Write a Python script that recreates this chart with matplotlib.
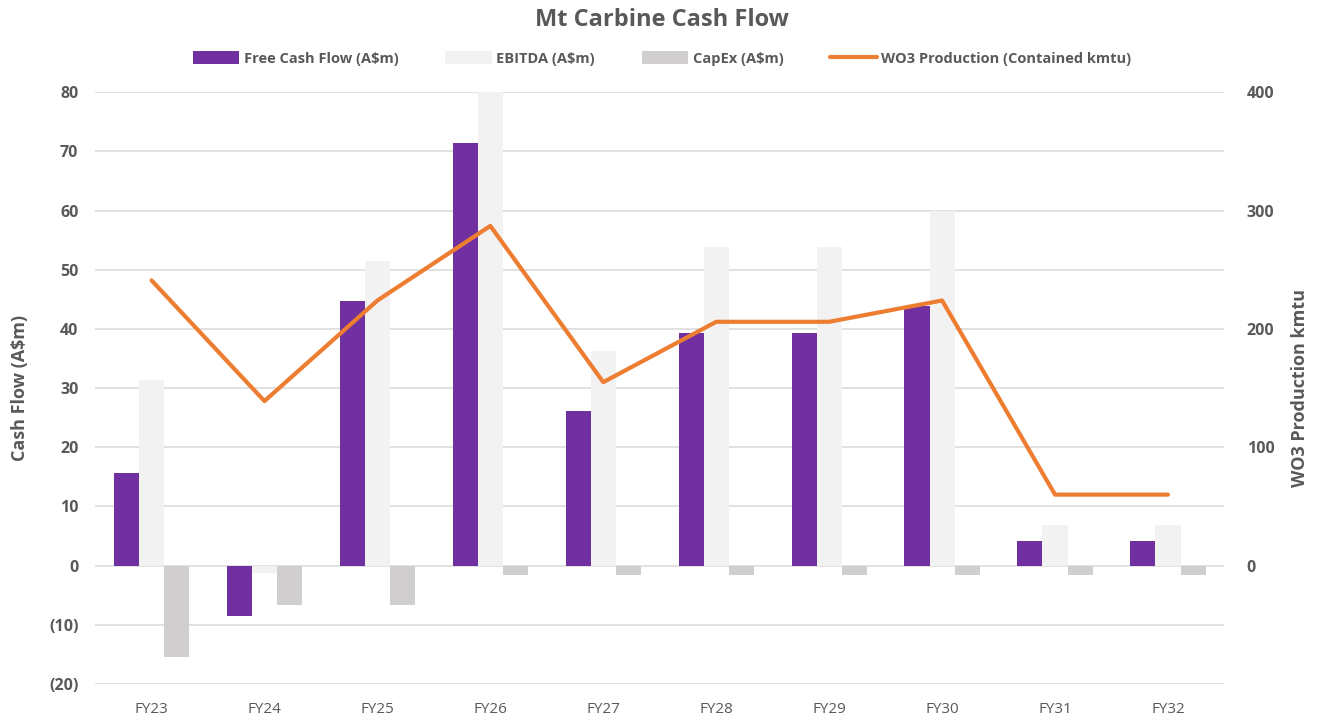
import numpy as np
import matplotlib.pyplot as plt

plt.rcParams['font.family'] = ['Open Sans', 'DejaVu Sans']

years = ['FY23', 'FY24', 'FY25', 'FY26', 'FY27', 'FY28', 'FY29', 'FY30', 'FY31', 'FY32']
fcf = [15.7, -8.5, 44.7, 71.4, 26.2, 39.3, 39.3, 43.9, 4.1, 4.1]
ebitda = [31.3, -1.3, 51.4, 85.0, 36.2, 53.8, 53.8, 60.0, 6.8, 6.8]
capex = [-15.4, -6.6, -6.6, -1.5, -1.5, -1.5, -1.5, -1.5, -1.5, -1.5]
wo3 = [241, 139, 224, 287, 155, 206, 206, 224, 60, 60]

grey = '#595959'
fig = plt.figure(figsize=(13.24, 7.2), dpi=100)
ax = fig.add_axes([0.0718, 0.05, 0.853, 0.822])
ax2 = ax.twinx()

x = np.arange(len(years))
w = 0.222
ax.bar(x - w, fcf, w, color='#7030A0', label='Free Cash Flow (A\\$m)', zorder=3)
ax.bar(x, ebitda, w, color='#F2F2F2', label='EBITDA (A\\$m)', zorder=3)
ax.bar(x + w, capex, w, color='#D0CECE', label='CapEx (A\\$m)', zorder=3)
ax2.plot(x, wo3, color='#ED7D31', lw=3, solid_capstyle='round',
         label='WO3 Production (Contained kmtu)', zorder=4)

ax.set_xlim(-0.5, len(years) - 0.5)
ax.set_ylim(-20, 80)
ax.set_yticks(range(-20, 81, 10))
ax.set_yticklabels([f'({-v})' if v < 0 else str(v) for v in range(-20, 81, 10)])
ax2.set_ylim(-100, 400)
ax2.set_yticks(range(0, 401, 100))

ax.set_xticks(x)
ax.set_xticklabels(years)
ax.grid(axis='y', color='#D9D9D9', lw=1.1, zorder=0)
ax.set_axisbelow(True)

for a in (ax, ax2):
    for s in a.spines.values():
        s.set_visible(False)
    a.tick_params(length=0, colors=grey, labelsize=11.5)
ax.tick_params(axis='x', pad=13, labelsize=11)
ax.tick_params(axis='y', pad=12)
ax2.tick_params(axis='y', pad=16)
for lab in ax.get_yticklabels() + ax2.get_yticklabels():
    lab.set_fontweight('bold')

ax.set_ylabel('Cash Flow (A\\$m)', fontsize=13, fontweight='bold', color=grey, labelpad=14)
ax2.set_ylabel('WO3 Production kmtu', fontsize=13, fontweight='bold', color=grey, labelpad=12)

fig.text(0.5, 0.972, 'Mt Carbine Cash Flow', ha='center', va='center',
         fontsize=17, fontweight='bold', color=grey)

h1, l1 = ax.get_legend_handles_labels()
h2, l2 = ax2.get_legend_handles_labels()
leg = fig.legend(h1 + h2, l1 + l2, loc='center', bbox_to_anchor=(0.5, 0.919), ncol=4,
                 frameon=False, handlelength=3.2, handleheight=1.0, columnspacing=3.2,
                 handletextpad=0.3, prop={'size': 10.5, 'weight': 'bold'})
for t in leg.get_texts():
    t.set_color(grey)

fig.savefig('out.png', dpi=100)
